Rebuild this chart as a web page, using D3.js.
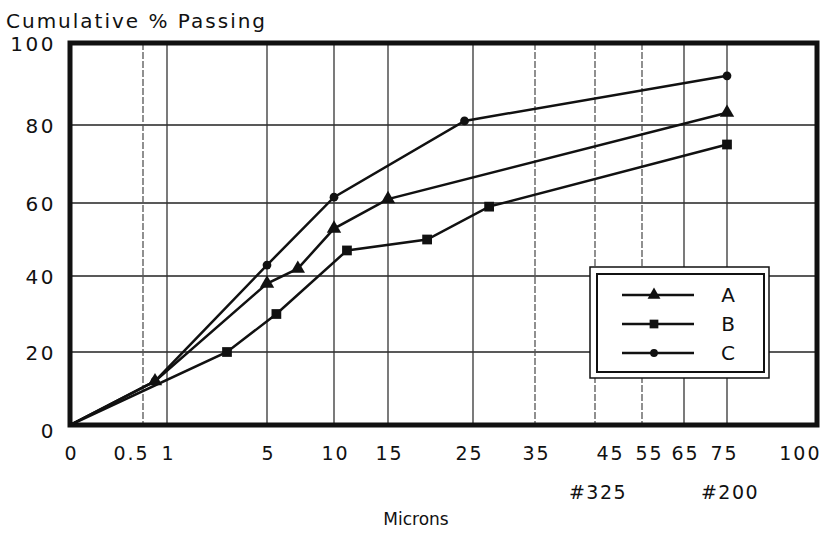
<!DOCTYPE html>
<html>
<head>
<meta charset="utf-8">
<script src="https://cdn.jsdelivr.net/npm/d3@7/dist/d3.min.js"></script>
<style>
  body { margin: 0; background: #fff; }
  text { font-family: "DejaVu Sans", "Liberation Sans", Arial, sans-serif; fill: #111; }
</style>
</head>
<body>
<script>
(function() {

// axis ticks (microns) - the original uses an uneven, hand laid-out scale
var xTicks      = [0, 0.5, 1, 5, 10, 15, 25, 35, 45, 55, 65, 75, 100];
var xTickLabels = ["0", "0.5", "1", "5", "10", "15", "25", "35", "45", "55", "65", "75", "100"];
var dashedTicks = [0.5, 35, 45, 55];
var sieveTicks  = [45, 75];
var sieveLabels = ["#325", "#200"];
var yTicks      = [0, 20, 40, 60, 80, 100];

// cumulative % passing
var seriesNames = ["A", "B", "C"];
var aX = [0, 0.75, 5, 7.3, 10, 15, 75];
var aY = [0, 12, 38, 42, 53, 61, 83];
var bX = [0, 3.4, 5.7, 11.2, 19.6, 27.6, 75];
var bY = [0, 20, 30, 47, 50, 59, 75];
var cX = [0, 0.75, 5, 10, 24, 75];
var cY = [0, 12, 43, 61.5, 81, 92];

var width = 839, height = 533,
    left = 70, right = 817, top = 43, bottom = 425;

// piecewise scales, one segment per grid cell of the printed chart
var x = d3.scaleLinear()
  .domain(xTicks)
  .range([left, 143, 167, 267, 334, 388, 473, 535, 595, 642, 684, 727, right]);
var y = d3.scaleLinear()
  .domain(yTicks)
  .range([bottom, 352, 276, 203, 125, top]);

// the printed labels don't sit exactly on their grid lines
var labelNudge = { 0.5: -13, 25: -5, 45: 14, 55: 6, 75: -4, 100: 3 };

var svg = d3.select("body").append("svg")
  .attr("width", width)
  .attr("height", height);

// grid
svg.append("g").selectAll("line")
  .data(yTicks.slice(1, -1))
  .enter().append("line")
    .attr("x1", left).attr("x2", right)
    .attr("y1", function(d) { return y(d); })
    .attr("y2", function(d) { return y(d); })
    .attr("stroke", "#222").attr("stroke-width", 1.5);

svg.append("g").selectAll("line")
  .data(xTicks.slice(1, -1))
  .enter().append("line")
    .attr("x1", function(d) { return x(d); })
    .attr("x2", function(d) { return x(d); })
    .attr("y1", top).attr("y2", bottom)
    .attr("stroke", function(d) { return dashedTicks.indexOf(d) >= 0 ? "#555" : "#333"; })
    .attr("stroke-width", 1.3)
    .attr("stroke-dasharray", function(d) { return dashedTicks.indexOf(d) >= 0 ? "7,2" : null; });

// axes (labels only, the frame is drawn below)
var xAxis = d3.axisBottom(x)
  .tickValues(xTicks)
  .tickFormat(function(d, i) { return xTickLabels[i]; })
  .tickSize(0).tickPadding(22);
var gx = svg.append("g")
  .attr("transform", "translate(0," + bottom + ")")
  .call(xAxis);
gx.select(".domain").remove();
gx.selectAll("text")
  .attr("font-size", 19).attr("letter-spacing", 2)
  .attr("font-family", null)
  .attr("text-anchor", function(d) { return d === 100 ? "end" : "middle"; })
  .attr("dx", function(d) { return (labelNudge[d] || 0) + 1; });

var yAxis = d3.axisLeft(y).tickValues(yTicks).tickSize(0).tickPadding(14);
var gy = svg.append("g")
  .attr("transform", "translate(" + left + ",0)")
  .call(yAxis);
gy.select(".domain").remove();
gy.selectAll("text")
  .attr("font-size", 20).attr("letter-spacing", 2.5)
  .attr("font-family", null)
  .attr("dy", function(d) { return d === 0 ? "0.6em" : "0.35em"; });

// sieve sizes under the micron labels
svg.append("g").selectAll("text")
  .data(sieveTicks)
  .enter().append("text")
    .attr("x", function(d) { return x(d) + 3; })
    .attr("y", 499)
    .attr("text-anchor", "middle")
    .attr("font-size", 19).attr("letter-spacing", 1.5)
    .text(function(d, i) { return sieveLabels[i]; });

svg.append("text")
  .attr("x", 416).attr("y", 525)
  .attr("text-anchor", "middle")
  .attr("font-size", 17)
  .text("Microns");

svg.append("text")
  .attr("x", 6).attr("y", 28)
  .attr("font-size", 20).attr("letter-spacing", 2)
  .text("Cumulative % Passing");

// frame
svg.append("rect")
  .attr("x", left).attr("y", top)
  .attr("width", right - left).attr("height", bottom - top)
  .attr("fill", "none").attr("stroke", "#111").attr("stroke-width", 5);

// series
var series = [
  { name: seriesNames[0], xs: aX, ys: aY, shape: d3.symbolTriangle, size: 90 },
  { name: seriesNames[1], xs: bX, ys: bY, shape: d3.symbolSquare,   size: 95 },
  { name: seriesNames[2], xs: cX, ys: cY, shape: d3.symbolCircle,   size: 60 }
];

var line = d3.line()
  .x(function(d) { return x(d[0]); })
  .y(function(d) { return y(d[1]); });

series.forEach(function(s) {
  var pts = d3.zip(s.xs, s.ys);
  svg.append("path")
    .datum(pts)
    .attr("d", line)
    .attr("fill", "none").attr("stroke", "#111").attr("stroke-width", 2.5);
  svg.append("g").selectAll("path")
    .data(pts.slice(1))
    .enter().append("path")
      .attr("d", d3.symbol().type(s.shape).size(s.size))
      .attr("transform", function(d) { return "translate(" + x(d[0]) + "," + y(d[1]) + ")"; })
      .attr("fill", "#111");
});

// legend, double-ruled box
var lg = svg.append("g");
lg.append("rect")
  .attr("x", 590).attr("y", 267).attr("width", 179).attr("height", 111)
  .attr("fill", "#fff").attr("stroke", "#111").attr("stroke-width", 1.5);
lg.append("rect")
  .attr("x", 597).attr("y", 274).attr("width", 167).attr("height", 98)
  .attr("fill", "none").attr("stroke", "#111").attr("stroke-width", 2);

var row = lg.selectAll("g.row")
  .data(series)
  .enter().append("g")
    .attr("class", "row")
    .attr("transform", function(d, i) { return "translate(0," + (295 + i * 29) + ")"; });
row.append("line")
  .attr("x1", 622).attr("x2", 694)
  .attr("stroke", "#111").attr("stroke-width", 2.5);
row.append("path")
  .attr("d", function(d) { return d3.symbol().type(d.shape).size(d.size * 0.8)(); })
  .attr("transform", "translate(654,0)")
  .attr("fill", "#111");
row.append("text")
  .attr("x", 728).attr("y", 7)
  .attr("text-anchor", "middle")
  .attr("font-size", 20)
  .text(function(d) { return d.name; });

})();
</script>
</body>
</html>
